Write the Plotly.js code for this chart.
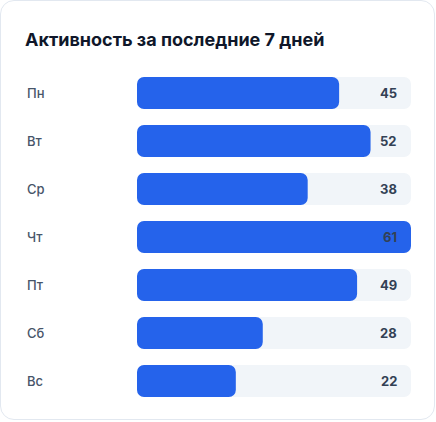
<!DOCTYPE html>
<html>
<head>
<meta charset="utf-8">
<script src="https://cdn.plot.ly/plotly-3.0.1.min.js"></script>
<style>
  html, body { margin: 0; padding: 0; background: #ffffff; }
  #card {
    position: absolute; left: 0; top: 0;
    width: 433px; height: 418px;
    border: 1px solid #e2e8f0; border-radius: 14px;
    background: #ffffff; overflow: hidden;
  }
  #chart { position: absolute; left: -1px; top: -1px; width: 436px; height: 422px; }
</style>
</head>
<body>
<div id="card"><div id="chart"></div></div>
<script>
const titleText = "Активность за последние 7 дней";
const days = ["Пн", "Вт", "Ср", "Чт", "Пт", "Сб", "Вс"];
const values = [45, 52, 38, 61, 49, 28, 22];

const maxVal = Math.max(...values);
const track = days.map(() => maxVal);
const zeroBase = days.map(() => 0);

const W = 436, H = 422;
const mL = 137, mR = 25, mT = 69, mB = 17;
const plotW = W - mL - mR;
const BW = 0.667, R = 7;

// With an explicit base, Plotly rounds both ends of each bar.
function roundedBar(vals, color) {
  return {
    type: "bar", orientation: "h", y: days, x: vals, base: zeroBase, width: BW,
    marker: { color: color, cornerradius: R, line: { width: 0 } },
    hoverinfo: "skip"
  };
}

const traces = [
  roundedBar(track, "#f1f5f9"),
  roundedBar(values, "#2563eb")
];

const annotations = [];
days.forEach((d, i) => {
  annotations.push({
    xref: "paper", yref: "y",
    x: (25 - mL) / plotW, y: d,
    xanchor: "left", yanchor: "middle",
    text: d, showarrow: false,
    font: { family: "Inter, 'Noto Sans', sans-serif", size: 13, color: "#475569", weight: 500 }
  });
  annotations.push({
    xref: "x", yref: "y",
    x: maxVal, y: d,
    xanchor: "right", yanchor: "middle", xshift: -12,
    text: String(values[i]), showarrow: false,
    font: { family: "Inter, 'Noto Sans', sans-serif", size: 13, color: "#334155", weight: 700 }
  });
});

const layout = {
  width: W, height: H,
  margin: { l: mL, r: mR, t: mT, b: mB, pad: 0 },
  paper_bgcolor: "rgba(0,0,0,0)",
  plot_bgcolor: "rgba(0,0,0,0)",
  barmode: "overlay",
  showlegend: false,
  title: {
    text: titleText,
    xref: "container", yref: "container",
    x: 25 / W, xanchor: "left",
    y: 1 - 40 / H, yanchor: "middle",
    font: { family: "Inter, 'Noto Sans', sans-serif", size: 18, color: "#0f172a", weight: 700 }
  },
  xaxis: {
    range: [0, maxVal], showgrid: false, zeroline: false,
    showticklabels: false, showline: false, fixedrange: true
  },
  yaxis: {
    type: "category", categoryorder: "array", categoryarray: days,
    autorange: "reversed",
    showgrid: false, zeroline: false, showticklabels: false, showline: false,
    fixedrange: true
  },
  annotations: annotations
};

Plotly.newPlot("chart", traces, layout, { staticPlot: true, displayModeBar: false });
</script>
</body>
</html>
